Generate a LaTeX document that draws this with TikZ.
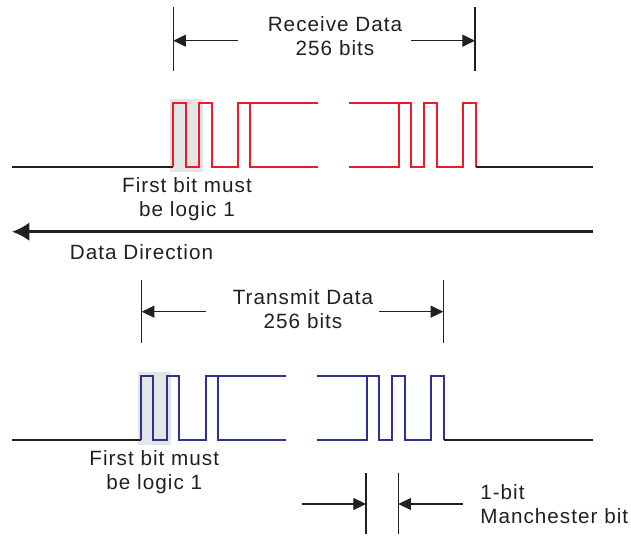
\documentclass[tikz,border=0pt]{standalone}
\usepackage{fontspec}
\setmainfont{Liberation Sans}[LetterSpace=5]
\usepackage{tikz}
\usetikzlibrary{arrows.meta,positioning,calc}
\definecolor{Ink}{HTML}{231F20}
\definecolor{RxRed}{HTML}{ED1C24}
\definecolor{TxBlue}{HTML}{2E3192}
\definecolor{Shade}{HTML}{E4E5E7}
\tikzset{
  >=Latex,
  lbl/.style={font=\fontsize{15.5}{17.5}\selectfont,text=Ink,align=center,inner sep=0pt},
  line/.style={draw=Ink,line width=1.6pt},
  wave/.style={line width=1.8pt,line join=miter},
  rx/.style={wave,draw=RxRed},
  tx/.style={wave,draw=TxBlue},
  firstbit/.style={fill=Shade,draw=none},
  tick/.style={draw=Ink,line width=.8pt},
  dim/.style={-{Triangle[length=9.5pt,width=9pt]},draw=Ink,line width=.8pt},
  flow/.style={-{Latex[length=13pt,width=14pt]},draw=Ink,line width=2.2pt}
}

\begin{document}
\begin{tikzpicture}[x=.75pt,y=-.75pt]
  \useasboundingbox (0,0) rectangle (631,535);
  % receive data
  \fill[firstbit] (170,99) rectangle (202.7,172);
  \draw[line] (12,167) -- (173,167);
  \draw[rx] (173,167) -- (173,103) -- (186,103) -- (186,167) -- (199,167) -- (199,103)
    -- (212,103) -- (212,167) -- (238,167) -- (238,103) -- (318,103);
  \draw[rx] (250,103) -- (250,167) -- (318,167);
  \draw[rx] (349,103) -- (411,103) -- (411,167) -- (424,167) -- (424,103) -- (437,103)
    -- (437,167) -- (463,167) -- (463,103) -- (476,103) -- (476,167);
  \draw[rx] (349,167) -- (399,167) -- (399,103);
  \draw[line] (476,167) -- (593,167);
  \coordinate (rxa) at (173.3,40.7);
  \coordinate (rxb) at (475,40.7);
  \draw[tick] (173.3,7) -- (173.3,71);
  \draw[tick] (475,7) -- (475,71);
  \node[lbl] (rxlen) at (335,36) {Receive Data\\256 bits};
  \draw[dim] (238,40.7) -- (rxa);
  \draw[dim] (410.7,40.7) -- (rxb);
  \node[lbl] (rxfirst) at (187,199) {First bit must\\be logic 1};

  % direction
  \coordinate (dirend) at (12,231.7);
  \coordinate (dirstart) at (593,231.7);
  \draw[flow] (dirstart) -- (dirend);
  \node[lbl] (dirlbl) at (141.5,252.5) {Data Direction};

  % transmit data
  \fill[firstbit] (137.7,372) rectangle (170.7,445);
  \draw[line] (12,440) -- (141,440);
  \draw[tx] (141,440) -- (141,376) -- (153,376) -- (153,440) -- (167,440) -- (167,376)
    -- (179,376) -- (179,440) -- (206,440) -- (206,376) -- (286,376);
  \draw[tx] (218,376) -- (218,440) -- (286,440);
  \draw[tx] (317,376) -- (379,376) -- (379,440) -- (392,440) -- (392,376) -- (405,376)
    -- (405,440) -- (431,440) -- (431,376) -- (444,376) -- (444,440);
  \draw[tx] (317,440) -- (367,440) -- (367,376);
  \draw[line] (444,440) -- (593,440);
  \coordinate (txa) at (141.7,311.7);
  \coordinate (txb) at (443.3,311.7);
  \draw[tick] (141.7,280) -- (141.7,343);
  \draw[tick] (443.3,280) -- (443.3,343);
  \node[lbl] (txlen) at (303,309) {Transmit Data\\256 bits};
  \draw[dim] (206,311.7) -- (txa);
  \draw[dim] (379,311.7) -- (txb);
  \node[lbl] (txfirst) at (154.3,472) {First bit must\\be logic 1};

  % one bit
  \coordinate (bita) at (366,504);
  \coordinate (bitb) at (398.3,504);
  \draw[tick] (366,472.7) -- (366,534);
  \draw[tick] (398.3,472.7) -- (398.3,534);
  \draw[dim] (301.7,504) -- (bita);
  \draw[dim] (462.7,504) -- (bitb);
  \node[lbl,align=left,anchor=west] (bitlbl) at (480,504) {1-bit\\Manchester bit};
\end{tikzpicture}
\end{document}
